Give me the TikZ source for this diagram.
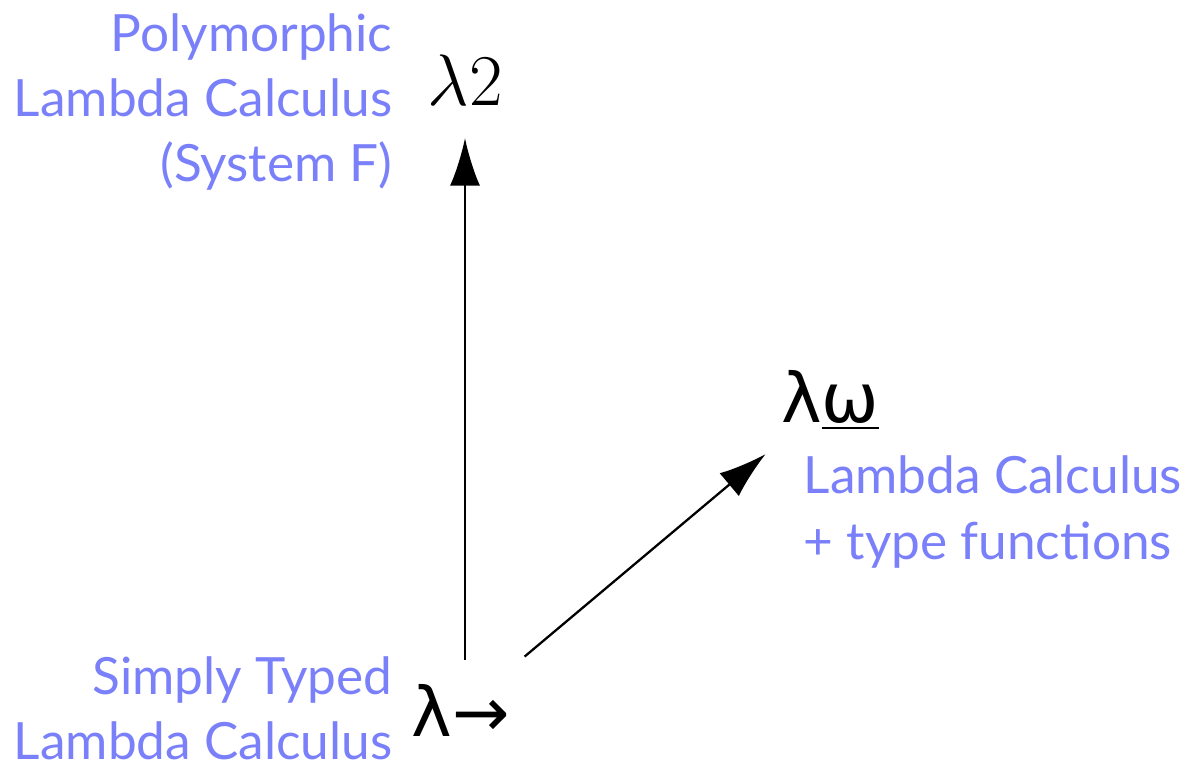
\documentclass[tikz,border=0pt]{standalone}
\usepackage{fontspec}
\setmainfont{Lato}
\newfontfamily\dejavu{DejaVu Sans}
\usetikzlibrary{arrows.meta}
\definecolor{lbl}{RGB}{122,128,250}
\tikzset{
  lab/.style={text=lbl, font=\fontsize{14.6}{18.5}\selectfont, inner sep=0pt},
  sym/.style={font=\fontsize{22}{26}\selectfont, inner sep=0pt},
  dsym/.style={font=\dejavu\fontsize{19.5}{24}\selectfont, inner sep=0pt},
  arr/.style={line width=0.65pt, -{Latex[length=13.5pt,width=8.5pt]}}
}
\begin{document}
\begin{tikzpicture}[x=0.01cm,y=-0.01cm]
\useasboundingbox (0,0) rectangle (1191,767);
\node[sym] (l2) at (465,80) {$\lambda 2$};
\node[dsym] (lw) at (830,400) {λ\underline{ω}};
\node[dsym] (la) at (461,710) {λ→};
\draw[arr, shorten <=0.5cm, shorten >=0.58cm] (l2.center |- la.center) -- (l2.center);
\draw[arr, shorten <=0.83cm, shorten >=0.84cm] (la.center) -- (lw.center);
\node[lab, align=right, anchor=east] (tpoly) at (393,102) {Polymorphic\\Lambda Calculus\\(System F)};
\node[lab, align=right, anchor=east] (tstl) at (393,708) {Simply Typed\\Lambda Calculus};
\node[lab, align=left, anchor=west] (tomega) at (803,512) {Lambda Calculus\\+ type functions};
\end{tikzpicture}
\end{document}
